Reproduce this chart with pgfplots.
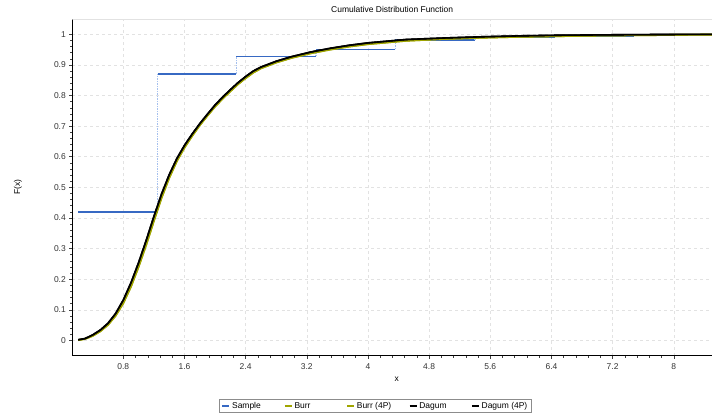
\documentclass[border=0pt]{standalone}
\usepackage{fontspec}
\setmainfont{Liberation Sans}
\usepackage{pgfplots}
\usepackage{pgfplotstable}
\pgfplotsset{compat=1.18}

\definecolor{sampleblue}{RGB}{55,105,195}
\definecolor{stepdot}{RGB}{165,192,238}
\definecolor{burrolive}{RGB}{160,165,0}
\definecolor{gridgray}{RGB}{226,226,226}

% fitted CDF curves
\pgfplotstableread{
x F
0.21 0.002
0.30 0.006
0.40 0.018
0.50 0.034
0.60 0.056
0.70 0.088
0.80 0.132
0.90 0.188
1.00 0.254
1.10 0.327
1.20 0.405
1.30 0.478
1.40 0.541
1.50 0.594
1.60 0.637
1.70 0.674
1.80 0.708
1.90 0.739
2.00 0.769
2.10 0.795
2.20 0.819
2.30 0.842
2.40 0.862
2.50 0.880
2.60 0.893
2.80 0.912
3.00 0.927
3.25 0.942
3.50 0.954
3.75 0.964
4.00 0.972
4.50 0.983
5.00 0.988
5.50 0.992
6.00 0.995
6.50 0.997
7.00 0.998
7.50 0.999
8.00 0.9995
8.50 1.000
}\dagum

\pgfplotstableread{
x F
0.21 0.001
0.30 0.005
0.40 0.015
0.50 0.030
0.60 0.051
0.70 0.081
0.80 0.122
0.90 0.176
1.00 0.241
1.10 0.313
1.20 0.391
1.30 0.466
1.40 0.531
1.50 0.586
1.60 0.630
1.70 0.668
1.80 0.703
1.90 0.734
2.00 0.764
2.10 0.790
2.20 0.814
2.30 0.837
2.40 0.857
2.50 0.875
2.60 0.889
2.80 0.908
3.00 0.923
3.25 0.938
3.50 0.950
3.75 0.960
4.00 0.968
4.50 0.979
5.00 0.985
5.50 0.989
6.00 0.992
6.50 0.994
7.00 0.996
7.50 0.997
8.00 0.998
8.50 0.999
}\burr

\begin{document}
\begin{tikzpicture}
\useasboundingbox (-72.3bp,-63.3bp) rectangle (639.7bp,355.7bp);
\begin{axis}[
    scale only axis,
    width=639.7bp, height=336.7bp,
    xmin=0.133, xmax=8.5,
    ymin=-0.05, ymax=1.05,
    axis x line*=bottom, axis y line*=left,
    axis line style={black, line width=1.2bp},
    xtick={0.8,1.6,2.4,3.2,4,4.8,5.6,6.4,7.2,8},
    ytick={0,0.1,0.2,0.3,0.4,0.5,0.6,0.7,0.8,0.9,1},
    minor x tick num=4, minor y tick num=4,
    tick align=outside,
    major tick length=3bp, minor tick length=2bp,
    tick style={black!75, line width=0.5bp},
    grid=major,
    major grid style={gridgray, dashed, line width=0.5bp},
    /pgf/number format/assume math mode=true,
    tick label style={font=\fontsize{8.5}{9}\selectfont, text=black!80},
    xticklabel style={yshift=-1bp},
    xlabel={x},
    xlabel style={at={(axis description cs:0.507,-0.0766)}, anchor=base, font=\fontsize{8.5}{9}\selectfont, inner sep=0pt},
    ylabel={F(x)},
    ylabel style={at={(axis description cs:-0.0849,0.5)}, anchor=center, font=\fontsize{8.5}{9}\selectfont, inner sep=0pt},
    legend columns=5,
    legend style={at={(axis description cs:0.474,-0.149)}, anchor=center,
        draw=black!45, line width=0.6bp, inner xsep=2bp, inner ysep=1bp,
        font=\fontsize{8.5}{9}\selectfont, column sep=0bp},
    legend image code/.code={\draw[#1, line width=1.4bp] (0bp,0bp) -- (7bp,0bp);},
]
\draw[gridgray, line width=0.6bp] (rel axis cs:0,1) -- (rel axis cs:1,1);

% empirical CDF: horizontal steps
\addplot[sampleblue, line width=1.5bp] coordinates {(0.21,0.419) (1.25,0.419)};
\addplot[sampleblue, line width=1.5bp, forget plot] coordinates {(1.25,0.871) (2.28,0.871)};
\addplot[sampleblue, line width=1.5bp, forget plot] coordinates {(2.28,0.928) (3.32,0.928)};
\addplot[sampleblue, line width=1.5bp, forget plot] coordinates {(3.32,0.951) (4.36,0.951)};
\addplot[sampleblue, line width=1.5bp, forget plot] coordinates {(4.36,0.982) (5.40,0.982)};
\addplot[sampleblue, line width=1.5bp, forget plot] coordinates {(5.40,0.990) (6.44,0.990)};
\addplot[sampleblue, line width=1.5bp, forget plot] coordinates {(6.44,0.995) (7.48,0.995)};
\addplot[sampleblue, line width=1.5bp, forget plot] coordinates {(7.48,1.000) (8.50,1.000)};
% empirical CDF: vertical jumps
\addplot[stepdot, line width=1.1bp, dash pattern=on 1.5bp off 1bp, forget plot] coordinates {(1.25,0.419) (1.25,0.871)};
\addplot[stepdot, line width=1.1bp, dash pattern=on 1.5bp off 1bp, forget plot] coordinates {(2.28,0.871) (2.28,0.928)};
\addplot[stepdot, line width=1.1bp, dash pattern=on 1.5bp off 1bp, forget plot] coordinates {(3.32,0.928) (3.32,0.951)};
\addplot[stepdot, line width=1.1bp, dash pattern=on 1.5bp off 1bp, forget plot] coordinates {(4.36,0.951) (4.36,0.982)};
\addplot[stepdot, line width=1.1bp, dash pattern=on 1.5bp off 1bp, forget plot] coordinates {(5.40,0.982) (5.40,0.990)};
\addplot[stepdot, line width=1.1bp, dash pattern=on 1.5bp off 1bp, forget plot] coordinates {(6.44,0.990) (6.44,0.995)};
\addplot[stepdot, line width=1.1bp, dash pattern=on 1.5bp off 1bp, forget plot] coordinates {(7.48,0.995) (7.48,1.000)};

\addplot[burrolive, line width=1.9bp] table[x=x, y=F] {\burr};
\addplot[burrolive, line width=1.9bp] table[x=x, y=F] {\burr};
\addplot[black, line width=1.6bp] table[x=x, y=F] {\dagum};
\addplot[black, line width=1.6bp] table[x=x, y=F] {\dagum};

\legend{\makebox[50bp][l]{Sample},\makebox[50bp][l]{Burr},\makebox[50bp][l]{Burr (4P)},\makebox[50bp][l]{Dagum},Dagum (4P)}
\end{axis}
\node[anchor=base, inner sep=0pt, font=\fontsize{8.5}{9}\selectfont] at (319.85bp,343.5bp) {Cumulative Distribution Function};
\end{tikzpicture}
\end{document}
